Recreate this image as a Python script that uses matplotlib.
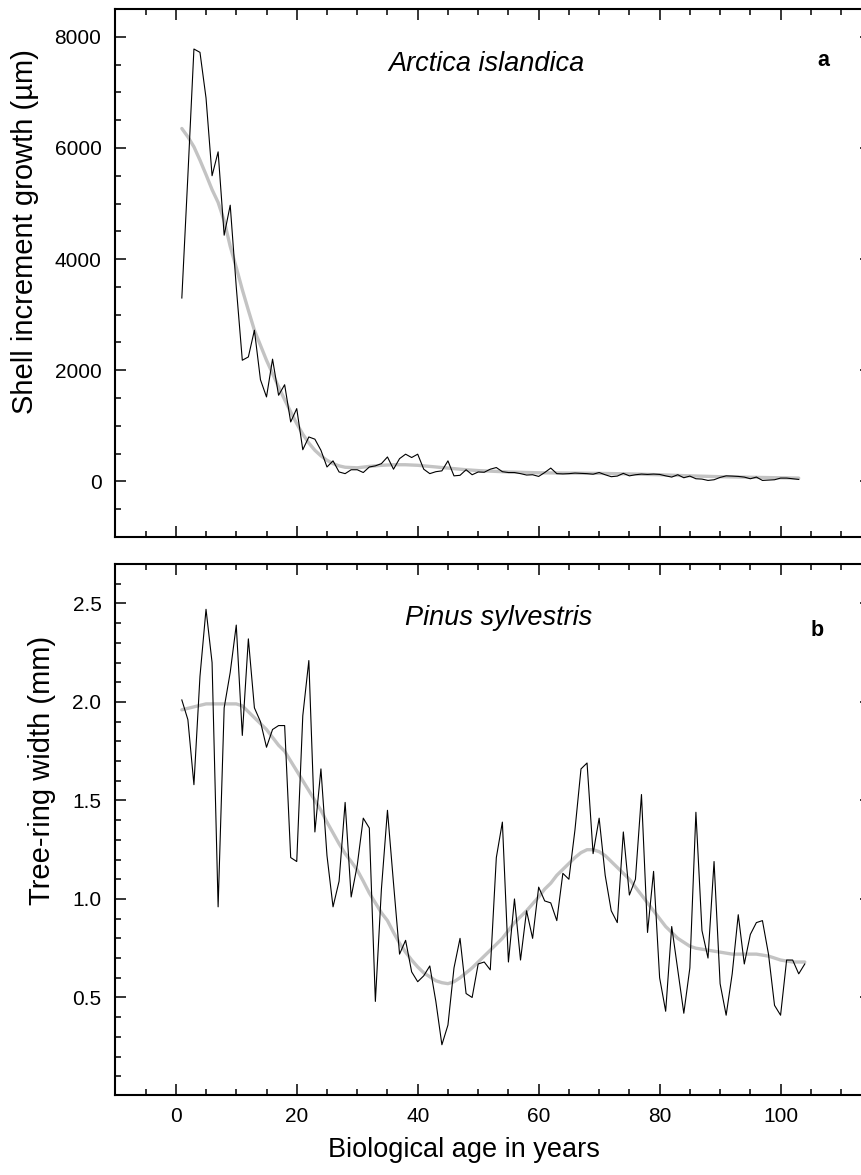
import numpy as np
import matplotlib.pyplot as plt
from matplotlib.ticker import MultipleLocator

plt.rcParams['font.family'] = ['Liberation Sans', 'DejaVu Sans']

# Arctica islandica: annual shell increment (um)
shell_age = np.arange(1, 104)
shell_growth = [3300, 5500, 7780, 7720, 6900, 5500, 5930, 4430, 4970, 3500,
                2180, 2240, 2720, 1830, 1520, 2200, 1550, 1740, 1070, 1310,
                570, 800, 760, 560, 260, 370, 170, 140, 210, 210,
                160, 260, 280, 320, 440, 220, 410, 490, 430, 490,
                220, 140, 175, 190, 370, 100, 110, 210, 120, 170,
                165, 220, 250, 175, 160, 160, 140, 115, 120, 90,
                160, 240, 140, 135, 140, 150, 145, 140, 130, 160,
                120, 85, 96, 145, 100, 120, 132, 126, 132, 126,
                100, 78, 120, 66, 96, 48, 42, 18, 30, 72,
                100, 96, 90, 78, 48, 78, 18, 24, 30, 60,
                60, 48, 36]
shell_fit_age = [1, 2, 3, 4, 5, 6, 7, 8, 9, 10, 11, 12, 13, 14, 15, 16, 17, 18,
                 19, 20, 21, 22, 23, 24, 25, 26, 27, 28, 30, 32, 34, 36, 38,
                 40, 42, 44, 46, 48, 50, 55, 60, 65, 70, 75, 80, 85, 90, 95,
                 100, 103]
shell_fit = [6350, 6200, 6020, 5780, 5520, 5250, 5020, 4690, 4230, 3850, 3450,
             3080, 2720, 2450, 2180, 1940, 1700, 1470, 1250, 1040, 850, 690,
             560, 460, 380, 320, 280, 255, 245, 270, 290, 300, 300, 290, 270,
             250, 230, 210, 195, 170, 155, 150, 145, 135, 120, 100, 85, 75,
             65, 60]

# Pinus sylvestris: tree-ring width (mm)
ring_age = np.arange(1, 105)
ring_width = [2.01, 1.91, 1.58, 2.13, 2.47, 2.20, 0.96, 1.97, 2.15, 2.39,
              1.83, 2.32, 1.97, 1.90, 1.77, 1.86, 1.88, 1.88, 1.21, 1.19,
              1.93, 2.21, 1.34, 1.66, 1.22, 0.96, 1.09, 1.49, 1.01, 1.17,
              1.41, 1.36, 0.48, 1.05, 1.45, 1.08, 0.72, 0.79, 0.63, 0.58,
              0.61, 0.66, 0.48, 0.26, 0.36, 0.65, 0.80, 0.52, 0.50, 0.67,
              0.68, 0.64, 1.21, 1.39, 0.68, 1.00, 0.69, 0.94, 0.80, 1.06,
              0.99, 0.98, 0.89, 1.13, 1.10, 1.35, 1.66, 1.69, 1.23, 1.41,
              1.12, 0.94, 0.88, 1.34, 1.02, 1.10, 1.53, 0.83, 1.14, 0.60,
              0.43, 0.86, 0.64, 0.42, 0.65, 1.44, 0.84, 0.70, 1.19, 0.57,
              0.41, 0.62, 0.92, 0.67, 0.82, 0.88, 0.89, 0.72, 0.46, 0.41,
              0.69, 0.69, 0.62, 0.67]
ring_fit_age = [1, 3, 5, 8, 10, 11, 12, 13, 14, 15, 16, 17, 18, 19, 20, 21, 22,
                23, 24, 25, 26, 27, 28, 29, 30, 31, 32, 33, 34, 35, 36, 37, 38,
                39, 40, 41, 42, 43, 44, 45, 46, 47, 48, 49, 50, 51, 52, 53, 54,
                55, 56, 57, 58, 59, 60, 61, 62, 63, 64, 65, 66, 67, 68, 69, 70,
                71, 72, 73, 74, 75, 76, 77, 78, 79, 80, 81, 82, 83, 84, 85, 86,
                88, 90, 92, 94, 96, 98, 100, 102, 104]
ring_fit = [1.96, 1.975, 1.99, 1.99, 1.99, 1.98, 1.95, 1.92, 1.89, 1.86, 1.82,
            1.78, 1.75, 1.70, 1.65, 1.60, 1.55, 1.50, 1.45, 1.39, 1.335, 1.28,
            1.23, 1.19, 1.147, 1.09, 1.03, 0.98, 0.93, 0.89, 0.83, 0.775, 0.73,
            0.69, 0.655, 0.625, 0.605, 0.585, 0.575, 0.57, 0.58, 0.60, 0.625,
            0.65, 0.68, 0.71, 0.74, 0.77, 0.80, 0.84, 0.88, 0.91, 0.94, 0.975,
            1.01, 1.05, 1.08, 1.12, 1.15, 1.18, 1.21, 1.235, 1.25, 1.25, 1.24,
            1.22, 1.19, 1.16, 1.13, 1.10, 1.06, 1.02, 0.98, 0.94, 0.90, 0.86,
            0.83, 0.80, 0.78, 0.76, 0.75, 0.74, 0.73, 0.72, 0.72, 0.72, 0.71,
            0.69, 0.68, 0.68]

W, H = 861, 1175
fig = plt.figure(figsize=(W / 100, H / 100), dpi=100)

ax1 = fig.add_axes([115.3 / W, 1 - 537 / H, 756 / W, 528 / H])
ax2 = fig.add_axes([115.3 / W, 1 - 1095 / H, 756 / W, 531 / H])

grey = '#c3c3c3'
ax1.plot(shell_fit_age, shell_fit, color=grey, lw=2.4, solid_capstyle='round')
ax1.plot(shell_age, shell_growth, color='black', lw=0.8)
ax2.plot(ring_fit_age, ring_fit, color=grey, lw=2.4, solid_capstyle='round')
ax2.plot(ring_age, ring_width, color='black', lw=0.8)

ax1.set(xlim=(-10, 115), ylim=(-1000, 8500))
ax2.set(xlim=(-10, 115), ylim=(0.005, 2.7))

ax1.yaxis.set_major_locator(MultipleLocator(2000))
ax1.yaxis.set_minor_locator(MultipleLocator(500))
ax2.yaxis.set_major_locator(MultipleLocator(0.5))
ax2.yaxis.set_minor_locator(MultipleLocator(0.1))
ax2.yaxis.set_major_formatter(plt.FormatStrFormatter('%.1f'))

for ax in (ax1, ax2):
    ax.xaxis.set_major_locator(MultipleLocator(20))
    ax.xaxis.set_minor_locator(MultipleLocator(5))
    ax.tick_params(which='both', direction='in', top=True, right=True,
                   width=1.1, labelsize=15)
    ax.tick_params(which='major', length=8)
    ax.tick_params(which='minor', length=4.5)
    ax.tick_params(axis='y', pad=10)
    ax.tick_params(axis='x', pad=9)
    for sp in ax.spines.values():
        sp.set_linewidth(1.5)

ax1.tick_params(axis='x', labelbottom=False)

ax1.text(0.491, 0.896, 'Arctica islandica', transform=ax1.transAxes,
         fontsize=19.5, style='italic', ha='center', va='center')
ax1.text(0.936, 0.903, 'a', transform=ax1.transAxes, fontsize=15.5,
         fontweight='bold', ha='center', va='center')
ax2.text(0.507, 0.898, 'Pinus sylvestris', transform=ax2.transAxes,
         fontsize=19.5, style='italic', ha='center', va='center')
ax2.text(0.928, 0.874, 'b', transform=ax2.transAxes, fontsize=15.5,
         fontweight='bold', ha='center', va='center')

fig.text(25 / W, 1 - 232 / H, 'Shell increment growth (µm)', rotation=90,
         ha='center', va='center', fontsize=21)
fig.text(42 / W, 1 - 770 / H, 'Tree-ring width (mm)', rotation=90,
         ha='center', va='center', fontsize=21)
fig.text(464 / W, 1 - 1150 / H, 'Biological age in years',
         ha='center', va='center', fontsize=19.5)

fig.savefig('out.png', dpi=100)
